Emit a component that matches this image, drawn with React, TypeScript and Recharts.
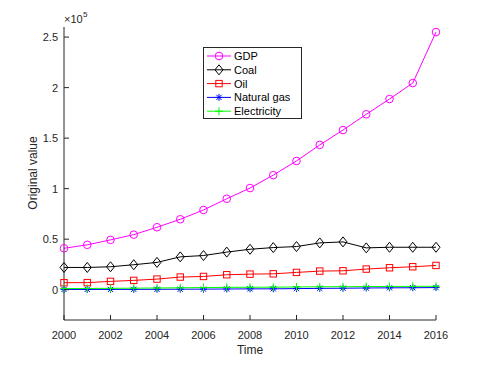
import React from 'react';
import { LineChart, Line, XAxis, YAxis, Legend } from 'recharts';

// values (original units, plotted as x10^5)
const years = [2000, 2001, 2002, 2003, 2004, 2005, 2006, 2007, 2008, 2009, 2010, 2011, 2012, 2013, 2014, 2015, 2016];
const gdp = [41000, 44400, 49300, 54500, 61800, 69700, 78900, 90000, 100600, 113400, 127400, 143300, 158000, 173600, 188700, 204500, 255000];
const coal = [22000, 22000, 22700, 24700, 27000, 32500, 33800, 37200, 40000, 41700, 42700, 46300, 47300, 41400, 42000, 42000, 42000];
const oil = [6900, 7000, 8200, 9200, 10500, 12500, 13100, 14800, 15400, 15700, 17100, 18400, 18700, 20400, 21700, 22700, 24000];
const naturalGas = [250, 270, 300, 340, 400, 470, 560, 670, 810, 850, 1070, 1310, 1470, 1680, 1840, 1930, 2090];
const electricity = [1100, 1200, 1350, 1500, 1700, 1900, 2100, 2300, 2400, 2500, 2700, 2900, 3000, 3100, 3200, 3300, 3400];

const seriesNames = ['GDP', 'Coal', 'Oil', 'Natural gas', 'Electricity'];
const xTicks = [2000, 2002, 2004, 2006, 2008, 2010, 2012, 2014, 2016];
const yTicks = [0, 50000, 100000, 150000, 200000, 250000];

const data = years.map((year, i) => ({
  year,
  gdp: gdp[i],
  coal: coal[i],
  oil: oil[i],
  gas: naturalGas[i],
  elec: electricity[i],
}));

const AXIS = '#262626';
const FONT = '"Liberation Sans", Arial, Helvetica, sans-serif';
const COLORS = ['#FF00FF', '#000000', '#FF0000', '#0000FF', '#00FF00'];
const SHAPES = ['circle', 'diamond', 'square', 'star', 'plus'];
const TICK_LEN = 5;

function marker(shape: string, cx: number, cy: number, color: string, key?: string) {
  switch (shape) {
    case 'circle':
      return <circle key={key} cx={cx} cy={cy} r={3.8} fill="none" stroke={color} strokeWidth={1} />;
    case 'diamond':
      return (
        <path key={key} d={`M${cx},${cy - 5}L${cx + 4},${cy}L${cx},${cy + 5}L${cx - 4},${cy}Z`} fill="none" stroke={color} strokeWidth={1} />
      );
    case 'square':
      return <rect key={key} x={cx - 3.2} y={cy - 3.2} width={6.4} height={6.4} fill="none" stroke={color} strokeWidth={1} />;
    case 'star':
      return (
        <path
          key={key}
          d={`M${cx - 3.5},${cy}H${cx + 3.5}M${cx},${cy - 3.5}V${cy + 3.5}M${cx - 2.6},${cy - 2.6}L${cx + 2.6},${cy + 2.6}M${cx - 2.6},${cy + 2.6}L${cx + 2.6},${cy - 2.6}`}
          stroke={color}
          strokeWidth={1}
        />
      );
    default:
      return <path key={key} d={`M${cx - 4},${cy}H${cx + 4}M${cx},${cy - 4}V${cy + 4}`} stroke={color} strokeWidth={1} />;
  }
}

const dotFor = (idx: number) => (props: any) =>
  marker(SHAPES[idx], props.cx, props.cy, COLORS[idx], `${idx}-${props.index}`);

// MATLAB style: ticks point into the plot box
const BottomTick = (props: any) => {
  const { x, y, payload } = props;
  const base = y - 8;
  return (
    <g>
      <line x1={x} x2={x} y1={base} y2={base - TICK_LEN} stroke={AXIS} />
      <text x={x} y={y} dy={10.5} textAnchor="middle" fontSize={11} fontFamily={FONT} fill={AXIS}>
        {payload.value}
      </text>
    </g>
  );
};

const LeftTick = (props: any) => {
  const { x, y, payload } = props;
  const base = x + 6;
  return (
    <g>
      <line x1={base} x2={base + TICK_LEN} y1={y} y2={y} stroke={AXIS} />
      <text x={x} y={y} dy={4} textAnchor="end" fontSize={11} fontFamily={FONT} fill={AXIS}>
        {payload.value / 1e5}
      </text>
    </g>
  );
};

const TopTick = (props: any) => {
  const { x, y } = props;
  const base = y + 2;
  return <line x1={x} x2={x} y1={base} y2={base + TICK_LEN} stroke={AXIS} />;
};

const RightTick = (props: any) => {
  const { x, y } = props;
  const base = x - 2;
  return <line x1={base} x2={base - TICK_LEN} y1={y} y2={y} stroke={AXIS} />;
};

const LegendBox = () => (
  <div style={{ width: 97, height: 70, border: `1px solid ${AXIS}`, background: '#fff' }}>
    <svg width={97} height={70}>
      {seriesNames.map((name, i) => {
        const cy = 8 + i * 13.8;
        return (
          <g key={name}>
            <line x1={3} x2={27} y1={cy} y2={cy} stroke={COLORS[i]} />
            {marker(SHAPES[i], 15, cy, COLORS[i])}
            <text x={30} y={cy + 4} fontSize={11} fontFamily={FONT} fill="#000">
              {name}
            </text>
          </g>
        );
      })}
    </svg>
  </div>
);

export default function App() {
  const dataKeys = ['gdp', 'coal', 'oil', 'gas', 'elec'];
  return (
    <div style={{ position: 'absolute', left: 0, top: 0, width: 489, height: 365, background: '#fff' }}>
      <LineChart width={489} height={365} data={data} margin={{ top: 27, right: 53, bottom: 15, left: 0 }}>
        <XAxis
          dataKey="year"
          type="number"
          domain={[2000, 2016]}
          ticks={xTicks}
          height={30}
          tickSize={0}
          tickMargin={8}
          tick={<BottomTick />}
          axisLine={{ stroke: AXIS }}
          interval={0}
        />
        <XAxis
          xAxisId="top"
          orientation="top"
          type="number"
          domain={[2000, 2016]}
          ticks={xTicks}
          height={0}
          tickSize={0}
          tickMargin={2}
          tick={<TopTick />}
          axisLine={{ stroke: AXIS }}
          interval={0}
        />
        <YAxis
          type="number"
          domain={[-30000, 260000]}
          ticks={yTicks}
          width={64}
          tickSize={0}
          tickMargin={6}
          tick={<LeftTick />}
          axisLine={{ stroke: AXIS }}
          interval={0}
        />
        <YAxis
          yAxisId="right"
          orientation="right"
          type="number"
          domain={[-30000, 260000]}
          ticks={yTicks}
          width={0}
          tickSize={0}
          tickMargin={2}
          tick={<RightTick />}
          axisLine={{ stroke: AXIS }}
          interval={0}
        />
        <Legend
          layout="vertical"
          align="center"
          verticalAlign="middle"
          content={<LegendBox />}
          wrapperStyle={{ left: 203, top: 47, width: 99, height: 72 }}
        />
        {dataKeys.map((k, i) => (
          <Line
            key={k}
            dataKey={k}
            name={seriesNames[i]}
            stroke={COLORS[i]}
            strokeWidth={1}
            dot={dotFor(i)}
            activeDot={false}
            isAnimationActive={false}
          />
        ))}
      </LineChart>
      <svg width={489} height={365} style={{ position: 'absolute', left: 0, top: 0, pointerEvents: 'none' }}>
        <text x={64} y={23} fontSize={11} fontFamily={FONT} fill={AXIS}>
          ×10
        </text>
        <text x={83} y={17} fontSize={8} fontFamily={FONT} fill={AXIS}>
          5
        </text>
        <text
          x={0}
          y={0}
          transform="translate(37,173) rotate(-90)"
          textAnchor="middle"
          fontSize={12}
          fontFamily={FONT}
          fill={AXIS}
        >
          Original value
        </text>
        <text x={250} y={354} textAnchor="middle" fontSize={12} fontFamily={FONT} fill={AXIS}>
          Time
        </text>
      </svg>
    </div>
  );
}
